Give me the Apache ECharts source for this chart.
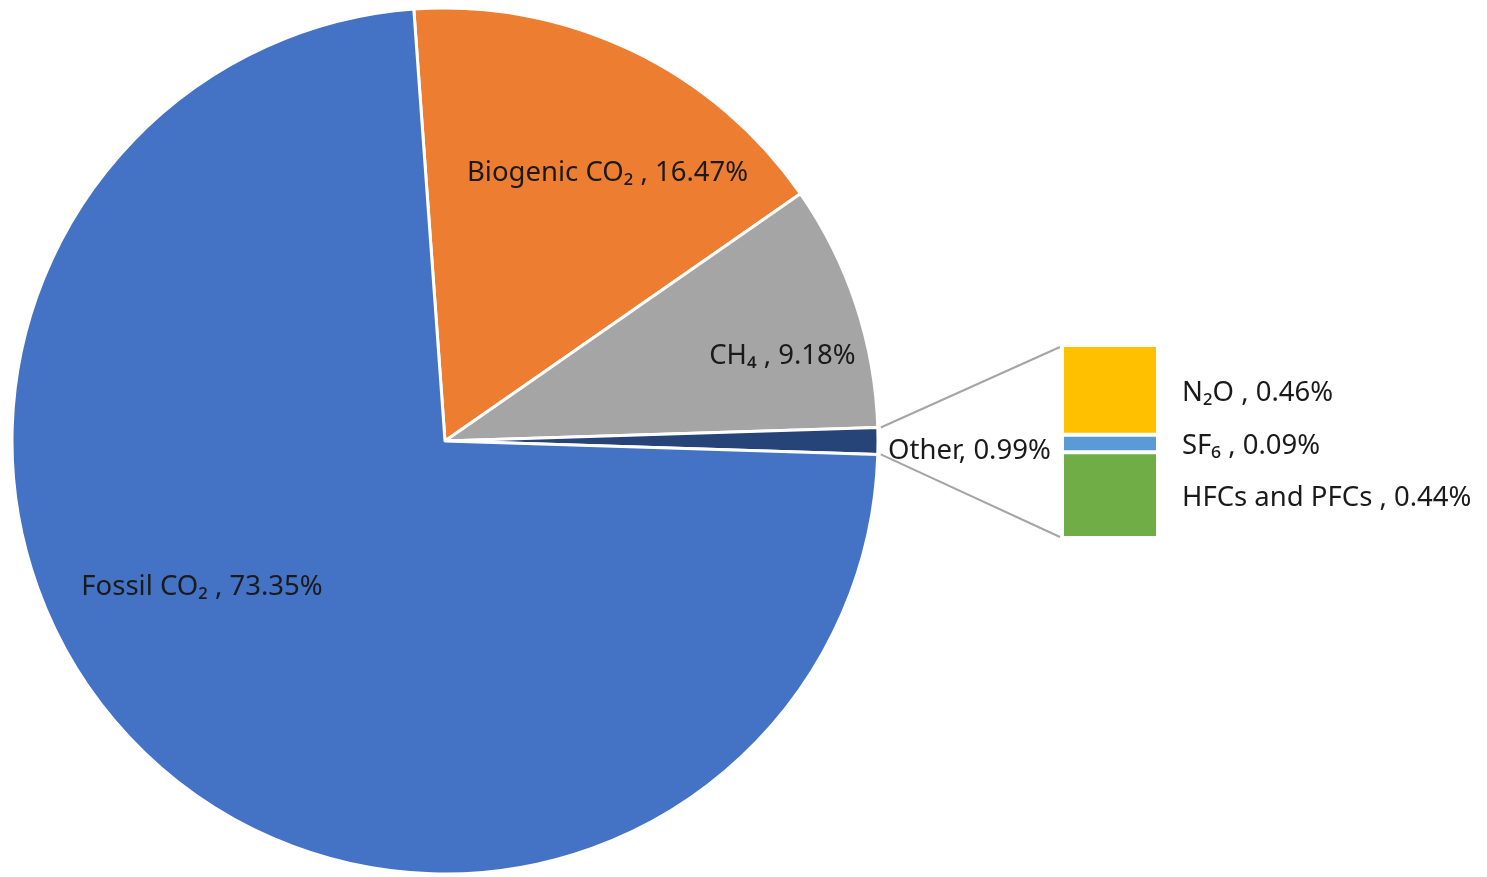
<!DOCTYPE html>
<html>
<head>
<meta charset="utf-8">
<script src="https://cdn.jsdelivr.net/npm/echarts@6/dist/echarts.min.js"></script>
<style>
html,body{margin:0;padding:0;background:#fff;}
#chart{width:1487px;height:877px;}
</style>
</head>
<body>
<div id="chart"></div>
<script>
// ---- data ----
const pieNames = ['Biogenic CO\u2082', 'CH\u2084', 'Other', 'Fossil CO\u2082'];
const pieValues = [16.47, 9.18, 0.99, 73.35];
const otherNames = ['HFCs and PFCs', 'SF\u2086', 'N\u2082O'];   // bottom to top
const otherValues = [0.44, 0.09, 0.46];

// ---- styles ----
const pieColors = ['#ED7D31', '#A5A5A5', '#264478', '#4472C4'];
const barColors = ['#70AD47', '#5B9BD5', '#FFC000'];
const labelOffsets = [[68, -70], [129, -16], null, [-91, -12]];
const FONT = "'Noto Sans', 'DejaVu Sans', sans-serif";
const FS = 27.5;
const TXT = '#1a1a1a';

const cx = 445, cy = 441, R = 433;
const grid = {left: 1062, top: 345, width: 96, height: 193};

const total = pieValues.reduce((a, b) => a + b, 0);
const otherIdx = pieNames.indexOf('Other');
let before = 0;
for (let i = 0; i < otherIdx; i++) before += pieValues[i];
const startAngle = (before + pieValues[otherIdx] / 2) / total * 360;
const halfOther = pieValues[otherIdx] / 2 / total * 2 * Math.PI;
const otherSum = otherValues.reduce((a, b) => a + b, 0);

const pieData = pieNames.map((n, i) => {
  const item = {name: n, value: pieValues[i], itemStyle: {color: pieColors[i]}};
  if (n === 'Other') {
    item.label = {position: 'outside', distanceToLabelLine: 10, offset: [0, 10],
      formatter: p => p.name + ', ' + p.value.toFixed(2) + '%'};
    item.labelLine = {show: false, length: 0, length2: 0};
  } else {
    item.label = {position: 'inside', offset: labelOffsets[i]};
  }
  return item;
});

const barSeries = otherNames.map((n, i) => ({
  type: 'bar',
  name: n,
  stack: 'other',
  barWidth: '100%',
  data: [otherValues[i]],
  itemStyle: {color: barColors[i], borderColor: '#fff', borderWidth: 2},
  label: {
    show: true, position: 'right', distance: 24, offset: [0, 3],
    fontFamily: FONT, fontSize: FS, color: TXT,
    formatter: p => p.seriesName + ' , ' + p.value.toFixed(2) + '%'
  },
  animation: false
}));

const x1 = cx + R * Math.cos(halfOther) + 3;
const yTop = cy - R * Math.sin(halfOther);
const yBot = cy + R * Math.sin(halfOther);
const lineStyle = {stroke: '#A5A5A5', lineWidth: 2};

const option = {
  backgroundColor: '#fff',
  animation: false,
  grid: Object.assign({}, grid),
  xAxis: {type: 'category', data: ['Other'], show: false},
  yAxis: {type: 'value', min: 0, max: otherSum, show: false},
  graphic: [
    {type: 'line', shape: {x1: x1, y1: yTop, x2: grid.left - 2, y2: grid.top + 2}, style: lineStyle, z: 1},
    {type: 'line', shape: {x1: x1, y1: yBot, x2: grid.left - 2, y2: grid.top + grid.height - 1}, style: lineStyle, z: 1}
  ],
  series: [
    {
      type: 'pie',
      center: [cx, cy],
      radius: R,
      startAngle: startAngle,
      clockwise: true,
      avoidLabelOverlap: false,
      silent: true,
      itemStyle: {borderColor: '#fff', borderWidth: 3},
      label: {
        show: true, fontFamily: FONT, fontSize: FS, color: TXT,
        formatter: p => p.name + ' , ' + p.value.toFixed(2) + '%'
      },
      data: pieData
    }
  ].concat(barSeries)
};

const chart = echarts.init(document.getElementById('chart'), null, {renderer: 'canvas'});
chart.setOption(option);
</script>
</body>
</html>
